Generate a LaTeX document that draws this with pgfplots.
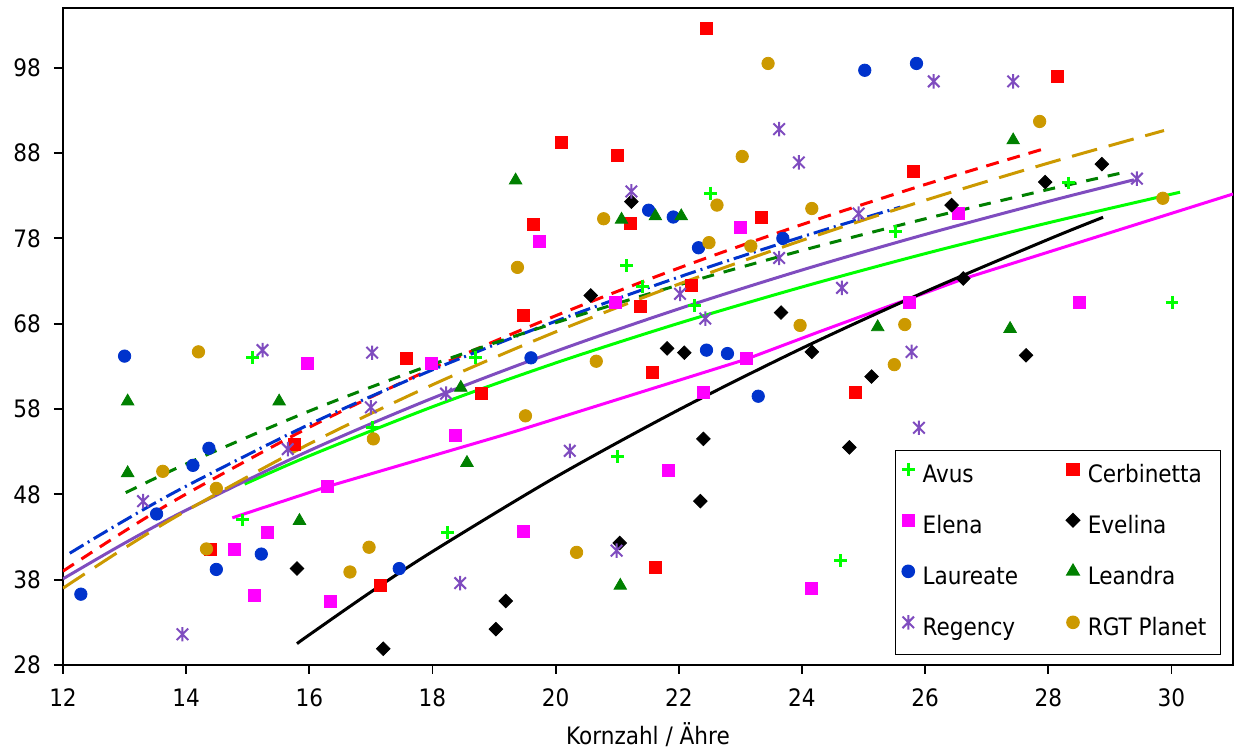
\documentclass[border=0pt]{standalone}
\usepackage{fontspec}
\setmainfont{DejaVu Sans Condensed}
\usepackage{pgfplots}
\pgfplotsset{compat=1.18}

\definecolor{avus}{HTML}{00FF00}
\definecolor{cerb}{HTML}{FF0000}
\definecolor{elena}{HTML}{FF00FF}
\definecolor{evelina}{HTML}{000000}
\definecolor{laureate}{HTML}{0033CC}
\definecolor{leandra}{HTML}{008000}
\definecolor{regency}{HTML}{7F4CBF}
\definecolor{rgt}{HTML}{CC9900}

% Excel-like star: an x with a vertical bar
\pgfdeclareplotmark{xstar}{%
  \pgfpathmoveto{\pgfqpoint{-0.8\pgfplotmarksize}{-0.8\pgfplotmarksize}}%
  \pgfpathlineto{\pgfqpoint{0.8\pgfplotmarksize}{0.8\pgfplotmarksize}}%
  \pgfpathmoveto{\pgfqpoint{-0.8\pgfplotmarksize}{0.8\pgfplotmarksize}}%
  \pgfpathlineto{\pgfqpoint{0.8\pgfplotmarksize}{-0.8\pgfplotmarksize}}%
  \pgfpathmoveto{\pgfqpoint{0pt}{-\pgfplotmarksize}}%
  \pgfpathlineto{\pgfqpoint{0pt}{\pgfplotmarksize}}%
  \pgfusepathqstroke}

\begin{document}
\begin{tikzpicture}
\begin{axis}[
    name=ax,
    width=585pt, height=328.5pt, scale only axis,
    xmin=12, xmax=31, ymin=28, ymax=105,
    xtick={12,14,...,30}, ytick={28,38,...,98},
    xtick pos=bottom, ytick pos=left,
    tick align=outside, major tick length=4.5pt,
    tick style={black, line width=0.9pt},
    axis line style={black, line width=1pt},
    font=\fontsize{12}{14}\selectfont,
    /pgf/number format/assume math mode=true,
    yticklabel style={xshift=-3pt},
    xticklabel style={yshift=-4pt},
    xlabel={Kornzahl / Ähre},
    xlabel style={at={(axis description cs:0.5,0)}, anchor=base, yshift=-40pt},
    legend columns=2,
    legend image code/.code={\draw[#1] plot coordinates {(0pt,0.6ex)};},
    legend style={at={(1,0)}, anchor=south east, xshift=-6pt, yshift=5pt,
        draw=black, line width=0.6pt, inner sep=3pt,
        font=\fontsize{12}{14}\selectfont,
        nodes={inner sep=4pt, text height=9pt, text depth=2.5pt},
        row sep=6pt,
        /tikz/every even column/.append style={column sep=20pt}},
    legend cell align=left,
]
% scatter points
\addplot[only marks, mark=+, mark size=3.2pt, avus, line width=1.5pt] coordinates {
(15.08,64.0) (18.70,64.0) (17.02,55.8) (14.91,45.0) (18.25,43.5) (21.00,52.4)
(24.63,40.2) (22.51,83.3) (21.15,74.8) (21.41,72.4) (22.25,70.1) (25.52,78.8)
(28.33,84.5) (30.01,70.5)};
\addlegendentry{Avus}
\addplot[only marks, mark=square*, mark size=3pt, cerb] coordinates {
(17.57,63.9) (22.45,102.6) (20.10,89.3) (21.00,87.7) (21.22,79.8) (23.34,80.5)
(19.64,79.6) (22.20,72.5) (21.38,70.0) (19.48,69.0) (21.57,62.3) (28.15,97.0)
(25.81,85.9) (15.75,53.8) (14.40,41.6) (17.15,37.3) (18.80,59.8) (24.87,60.0)
(21.62,39.4)};
\addlegendentry{Cerbinetta}
\addplot[only marks, mark=square*, mark size=3pt, elena] coordinates {
(15.97,63.3) (19.74,77.6) (23.00,79.3) (20.97,70.5) (17.99,63.3) (23.09,63.9)
(26.54,80.9) (25.75,70.5) (28.50,70.5) (16.30,48.9) (15.32,43.5) (14.79,41.6)
(15.11,36.1) (16.34,35.5) (22.40,59.9) (18.38,54.9) (21.83,50.8) (19.48,43.7)
(24.16,37.0)};
\addlegendentry{Elena}
\addplot[only marks, mark=square*, mark size=2.4pt, evelina, mark options={rotate=45}] coordinates {
(20.57,71.3) (21.23,82.3) (23.66,69.3) (21.81,65.1) (22.09,64.6) (28.87,86.7)
(27.95,84.6) (26.43,81.9) (26.62,73.3) (24.16,64.7) (27.64,64.3) (25.13,61.8)
(15.80,39.3) (17.20,29.9) (22.40,54.5) (24.77,53.5) (22.35,47.2) (21.04,42.3)
(19.19,35.5) (19.03,32.2)};
\addlegendentry{Evelina}
\addplot[only marks, mark=*, mark size=3.1pt, laureate] coordinates {
(13.00,64.2) (21.51,81.3) (21.91,80.5) (22.32,76.9) (23.69,78.0) (19.60,64.0)
(22.45,64.9) (22.79,64.5) (25.02,97.7) (25.86,98.5) (14.37,53.4) (14.11,51.4)
(13.52,45.7) (15.22,41.0) (14.49,39.2) (17.46,39.3) (12.29,36.3) (23.29,59.5)};
\addlegendentry{Laureate}
\addplot[only marks, mark=triangle*, mark size=3.6pt, leandra] coordinates {
(19.35,84.8) (21.62,80.6) (22.04,80.6) (21.07,80.2) (27.43,89.5) (25.23,67.6)
(27.38,67.4) (13.05,58.9) (15.51,58.9) (13.05,50.5) (15.84,44.9) (18.46,60.5)
(18.56,51.7) (21.05,37.3)};
\addlegendentry{Leandra}
\addplot[only marks, mark=xstar, mark size=3.6pt, regency, line width=1pt] coordinates {
(15.24,64.9) (17.02,64.6) (23.63,90.8) (23.95,86.9) (21.23,83.5) (23.63,75.7)
(22.02,71.5) (22.43,68.6) (26.14,96.4) (27.43,96.4) (29.44,85.0) (24.92,80.9)
(24.65,72.2) (25.78,64.7) (17.00,58.2) (15.65,53.3) (13.30,47.2) (13.94,31.6)
(18.22,59.8) (20.23,53.1) (20.99,41.4) (18.45,37.6) (25.90,55.8)};
\addlegendentry{Regency}
\addplot[only marks, mark=*, mark size=3.1pt, rgt] coordinates {
(14.20,64.7) (23.45,98.5) (23.03,87.6) (22.62,81.9) (24.16,81.5) (20.78,80.3)
(22.49,77.5) (23.17,77.1) (19.38,74.6) (23.97,67.8) (20.66,63.6) (27.86,91.7)
(29.86,82.7) (25.67,67.9) (25.50,63.2) (17.04,54.5) (13.62,50.7) (14.49,48.7)
(14.33,41.6) (16.97,41.8) (16.66,38.9) (19.51,57.2) (20.34,41.2)};
\addlegendentry{RGT Planet}

% trend lines
\addplot[forget plot, no marks, smooth, avus, line width=1.5pt] coordinates {
(14.95,49.2) (16,52.51) (18,58.26) (20,63.40) (22,68.05) (24,72.30) (26,76.21) (28,79.82) (30.14,83.41)};
\addplot[forget plot, no marks, smooth, cerb, line width=1.5pt, dash pattern=on 6.5pt off 4.5pt] coordinates {
(12,39.0) (13,43.69) (14,48.04) (16,55.86) (18,62.76) (20,68.93) (22,74.52) (24,79.62) (26,84.31) (27.98,88.6)};
\addplot[forget plot, no marks, elena, line width=1.5pt] coordinates {
(14.75,45.25) (16.29,48.9) (19.08,54.8) (19.40,55.5) (23.08,63.8) (24.26,67.0) (26.64,73.3) (31,83.2)};
\addplot[forget plot, no marks, smooth, evelina, line width=1.5pt] coordinates {
(15.8,30.5) (16,31.54) (17,36.56) (18,41.30) (20,50.02) (22,57.91) (24,65.12) (26,71.74) (28,77.88) (28.89,80.47)};
\addplot[forget plot, no marks, smooth, laureate, line width=1.5pt, dash pattern=on 8pt off 2.5pt on 1pt off 2.5pt] coordinates {
(12.11,41.1) (13,44.94) (14,48.96) (16,56.20) (18,62.59) (20,68.29) (22,73.46) (24,78.18) (25.6,81.67)};
\addplot[forget plot, no marks, smooth, leandra, line width=1.5pt, dash pattern=on 6pt off 5pt] coordinates {
(13.02,48.2) (14,51.57) (16,57.76) (18,63.23) (20,68.11) (22,72.54) (24,76.58) (26,80.29) (28,83.73) (29.25,85.76)};
\addplot[forget plot, no marks, smooth, regency, line width=1.5pt] coordinates {
(12,38.1) (13,42.28) (14,46.15) (16,53.12) (18,59.27) (20,64.76) (22,69.74) (24,74.29) (26,78.46) (28,82.33) (29.39,84.86)};
\addplot[forget plot, no marks, smooth, rgt, line width=1.5pt, dash pattern=on 13pt off 6pt] coordinates {
(12,37.0) (13,41.71) (14,46.07) (16,53.92) (18,60.84) (20,67.04) (22,72.64) (24,77.76) (26,82.46) (28,86.82) (29.88,90.64)};
\end{axis}
\pgfresetboundingbox
\path ([shift={(-31.5pt,-44pt)}]ax.south west) rectangle ([shift={(1.5pt,4pt)}]ax.north east);
\end{tikzpicture}
\end{document}
